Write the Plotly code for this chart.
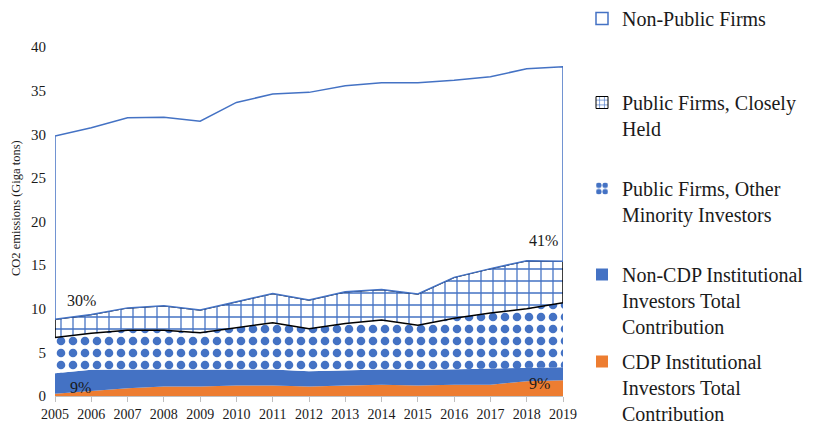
import plotly.graph_objects as go
import numpy as np

years = list(range(2005, 2020))
cdp = [0.25, 0.55, 0.9, 1.1, 1.1, 1.2, 1.2, 1.1, 1.2, 1.3, 1.2, 1.3, 1.3, 1.7, 1.8]
non_cdp = [2.35, 2.45, 2.15, 1.95, 1.9, 1.8, 1.85, 1.75, 1.75, 1.75, 1.8, 1.75, 1.85, 1.55, 1.5]
minority = [4.1, 4.2, 4.5, 4.5, 4.25, 4.85, 5.35, 4.85, 5.35, 5.65, 5.1, 5.85, 6.35, 6.75, 7.4]
closely = [2.1, 2.15, 2.55, 2.8, 2.6, 2.95, 3.35, 3.3, 3.65, 3.5, 3.6, 4.7, 5.1, 5.5, 4.75]
non_public = [21.0, 21.4, 21.8, 21.6, 21.65, 22.85, 22.85, 23.8, 23.6, 23.7, 24.2, 22.6, 22.0, 22.0, 22.3]

series_names = [
    "CDP Institutional<br>Investors Total<br>Contribution",
    "Non-CDP Institutional<br>Investors Total<br>Contribution",
    "Public Firms, Other<br>Minority Investors",
    "Public Firms, Closely<br>Held",
    "Non-Public Firms",
]

label_x = [2005.74, 2005.69, 2018.47, 2018.36]
label_y = [10.95, 0.95, 17.77, 1.45]
label_text = ["30%", "9%", "41%", "9%"]

BLUE = "#4472C4"
ORANGE = "#ED7D31"
FONT = "Liberation Serif, Times New Roman, serif"
TXT = "#1a1a1a"

series = [cdp, non_cdp, minority, closely, non_public]
cum = np.cumsum(np.array(series), axis=0)
lowers = [np.zeros(len(years))] + [cum[i - 1] for i in range(1, 5)]
uppers = [cum[i] for i in range(5)]

styles = [
    dict(fillcolor=ORANGE, line=dict(width=0), fillpattern=None),
    dict(fillcolor=BLUE, line=dict(width=0), fillpattern=None),
    dict(fillcolor="white", line=dict(width=0),
         fillpattern=dict(shape=".", fgcolor=BLUE, bgcolor="white", size=12, solidity=0.4, fgopacity=1)),
    dict(fillcolor="white", line=dict(width=1.5, color="black"),
         fillpattern=dict(shape="+", fgcolor=BLUE, bgcolor="white", size=12, solidity=0.2, fgopacity=1)),
    dict(fillcolor="white", line=dict(width=1.5, color=BLUE), fillpattern=None),
]

fig = go.Figure()
for i in range(5):
    xs = years + years[::-1] + [years[0]]
    ys = list(uppers[i]) + list(lowers[i][::-1]) + [uppers[i][0]]
    st = styles[i]
    kw = dict(x=xs, y=ys, mode="lines", fill="toself", fillcolor=st["fillcolor"],
              line=st["line"], showlegend=False, hoverinfo="skip", name=series_names[i])
    if st["fillpattern"] is not None:
        kw["fillpattern"] = st["fillpattern"]
    fig.add_trace(go.Scatter(**kw))

# legend swatches (one legend per entry to reproduce spacing)
legend_marker = [
    dict(color=ORANGE, line=dict(width=0)),
    dict(color=BLUE, line=dict(width=0)),
    dict(color="white", line=dict(width=0),
         pattern=dict(shape=".", fgcolor=BLUE, bgcolor="white", size=8, solidity=0.6, fgopacity=1)),
    dict(color="white", line=dict(width=1, color="black"),
         pattern=dict(shape="+", fgcolor=BLUE, bgcolor="white", size=6, solidity=0.25, fgopacity=1)),
    dict(color="white", line=dict(width=1.5, color=BLUE)),
]
legend_ids = ["legend5", "legend4", "legend3", "legend2", "legend"]
legend_center_px = [362, 275, 189, 103, 19]

for i in range(5):
    fig.add_trace(go.Bar(x=[None], y=[None], name=series_names[i], marker=legend_marker[i],
                         legend=legend_ids[i], showlegend=True))

# page has an 8px body margin: figure coordinates = page coordinates - 8
OFF = 8
W, H = 822 - OFF, 426 - OFF
plot_top, plot_bottom, plot_left, plot_right = 47 - OFF, 396 - OFF, 55 - OFF, 563 - OFF
ph = plot_bottom - plot_top
pw = plot_right - plot_left
leg_x = (574 - plot_left) / pw

layout_legends = {}
for lid, c in zip(legend_ids, legend_center_px):
    top = c - OFF - 20
    layout_legends[lid] = dict(
        x=leg_x, xanchor="left", y=(plot_bottom - top) / ph, yanchor="top",
        font=dict(family=FONT, size=20, color=TXT), bgcolor="rgba(0,0,0,0)",
        valign="top", itemclick=False, itemdoubleclick=False,
    )

for tx, ty, tt in zip(label_x, label_y, label_text):
    fig.add_annotation(x=tx, y=ty, text=tt, showarrow=False, xref="x", yref="y",
                       font=dict(family=FONT, size=16, color=TXT))

fig.add_annotation(text="CO2 emissions (Giga tons)", textangle=-90, showarrow=False,
                   xref="paper", yref="paper",
                   x=(16 - OFF - plot_left) / pw, y=(plot_bottom - (208 - OFF)) / ph,
                   xanchor="center", yanchor="middle",
                   font=dict(family=FONT, size=12.5, color=TXT))

fig.update_layout(
    width=W, height=H,
    margin=dict(l=plot_left, r=W - plot_right, t=plot_top, b=H - plot_bottom, pad=0,
                autoexpand=False),
    paper_bgcolor="white", plot_bgcolor="white",
    font=dict(family=FONT, color=TXT),
    xaxis=dict(range=[2005, 2019], tickvals=years, ticktext=[str(y) for y in years],
               ticks="outside", ticklen=5, tickcolor="#bfbfbf", showline=True,
               linecolor="#bfbfbf", linewidth=1, showgrid=False, zeroline=False,
               tickfont=dict(family=FONT, size=14, color=TXT)),
    yaxis=dict(range=[0, 40], tick0=0, dtick=5, showgrid=False, showline=False,
               zeroline=False, ticks="", ticklabelstandoff=8,
               tickfont=dict(family=FONT, size=15, color=TXT)),
    showlegend=True,
    **layout_legends,
)

fig.write_html("out.html")
